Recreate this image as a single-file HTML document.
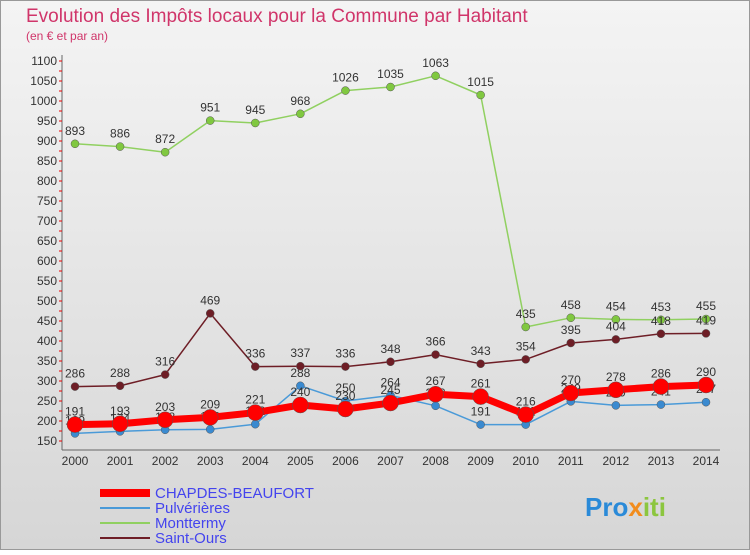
<!DOCTYPE html>
<html><head><meta charset="utf-8"><style>
body{margin:0;width:750px;height:550px;overflow:hidden;font-family:"Liberation Sans",sans-serif}
</style></head><body>
<svg id="c" width="750" height="550" xmlns="http://www.w3.org/2000/svg">
<defs><linearGradient id="bg" x1="0" y1="0" x2="0" y2="1"><stop offset="0" stop-color="#f4f4f4"/><stop offset="1" stop-color="#d6d6d6"/></linearGradient></defs>
<rect x="0.5" y="0.5" width="749" height="549" fill="url(#bg)" stroke="#999"/>
<text x="26" y="22" font-size="19" fill="#d0356a">Evolution des Impôts locaux pour la Commune par Habitant</text>
<text x="26" y="40" font-size="12" fill="#d0356a">(en € et par an)</text>
<g id="g"></g>
<text x="585" y="516" font-size="26" font-weight="bold" fill="#2a8ad8">Pro<tspan fill="#f28c1c">x</tspan><tspan fill="#8cc63f">iti</tspan></text>
</svg>
<script>
const years=[2000,2001,2002,2003,2004,2005,2006,2007,2008,2009,2010,2011,2012,2013,2014];
const chapdes=[191,193,203,209,221,240,230,245,267,261,216,270,278,286,290];
const pulv=[169,174,178,179,192,288,250,264,238,191,191,249,239,241,247];
const montt=[893,886,872,951,945,968,1026,1035,1063,1015,435,458,454,453,455];
const ours=[286,288,316,469,336,337,336,348,366,343,354,395,404,418,419];
const yTicks=[150,200,250,300,350,400,450,500,550,600,650,700,750,800,850,900,950,1000,1050,1100];
const NS="http://www.w3.org/2000/svg",g=document.getElementById('g');
const X=i=>75+i*(706-75)/14, Y=v=>441-(v-150)*0.4;
function el(t,a,p){const e=document.createElementNS(NS,t);for(const k in a)e.setAttribute(k,a[k]);(p||g).appendChild(e);return e;}
let ax=el('line',{x1:62,y1:55,x2:62,y2:450,stroke:'#666'});


let bx=el('line',{x1:62,y1:450,x2:720,y2:450,stroke:'#666'});


for(let v=150;v<=1100;v+=25){let t=el('line',{x1:59,y1:Y(v),x2:62,y2:Y(v),stroke:'#e00'});}
yTicks.forEach(v=>{let t=el('text',{x:57,y:Y(v)+4,'font-size':12,'text-anchor':'end',fill:'#333'});t.textContent=v;});
years.forEach((y,i)=>{let t=el('text',{x:X(i),y:465,'font-size':12,'text-anchor':'middle',fill:'#333'});t.textContent=y;});
function series(d,c,w,r,name,pc){
 const gg=el('g',{});
 const p=el('polyline',{points:d.map((v,i)=>X(i)+','+Y(v)).join(' '),fill:'none',stroke:c,'stroke-width':w,'stroke-linejoin':'round'},gg);
 
 d.forEach((v,i)=>{let m=el('circle',{cx:X(i),cy:Y(v),r:r,fill:pc||c,stroke:'#555','stroke-width':0.5},gg);
 let t=el('text',{x:X(i),y:Y(v)-9,'font-size':12,'text-anchor':'middle',fill:'#333'},gg);t.textContent=v;});
}
series(pulv,'#4a9ad8',1.5,4,'pulverieres','#3a8ad0');
series(montt,'#90d060',1.5,4,'monttermy','#80c840');
series(ours,'#6e1e26',1.5,4,'saint-ours');
series(chapdes,'#ff0000',7,8,'chapdes-beaufort');
const leg=[['CHAPDES-BEAUFORT','#ff0000',8],['Pulvérières','#4a9ad8',2],['Monttermy','#90d060',2],['Saint-Ours','#6e1e26',2]];
leg.forEach((l,i)=>{const y=493+i*15;const gg=el('g',{});
 el('line',{x1:100,y1:y,x2:150,y2:y,stroke:l[1],'stroke-width':l[2]},gg);
 let t=el('text',{x:155,y:y+5,'font-size':15,fill:'#4444ee'},gg);t.textContent=l[0];});
</script>
</body></html>
